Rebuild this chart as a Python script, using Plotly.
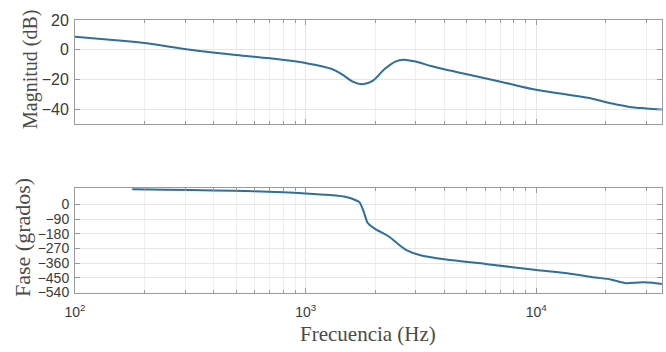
import plotly.graph_objects as go

# ---- data ----
mag_freq = [100, 150, 200, 316, 500, 700, 1000, 1300, 1450, 1600, 1766, 1950, 2200, 2450, 2650,
            3000, 3500, 4070, 5000, 7000, 10000, 14000, 17500, 21000, 25300, 30000, 35000]
mag_db = [8.7, 6.3, 4.5, 0.0, -3.5, -5.8, -9.0, -13.0, -17.0, -21.5, -23.3, -21.0, -13.0, -8.0, -6.7,
          -8.0, -11.0, -13.5, -16.5, -21.5, -27.0, -30.5, -33.0, -36.0, -38.5, -39.5, -40.2]

ph_freq = [177, 250, 400, 600, 800, 1000, 1270, 1500, 1650, 1714, 1780, 1850, 1890, 2000, 2310,
           2500, 2735, 3120, 4070, 6000, 10000, 14000, 18100, 21000, 24500, 28000, 32000, 35000]
ph_deg = [92, 90, 85, 80, 74, 67, 57, 45, 25, 12, -40, -110, -125, -150, -200,
          -240, -280, -310, -338, -365, -402, -425, -448, -460, -483, -478, -480, -488]

x_ticks = [100, 1000, 10000]
x_ticktext = ["10<sup>2</sup>", "10<sup>3</sup>", "10<sup>4</sup>"]
mag_ticks = [20, 0, -20, -40]
ph_ticks = [0, -90, -180, -270, -360, -450, -540]

minor_vals = [m * d for d in (100, 1000, 10000) for m in range(2, 10) if m * d <= 35000]

LINE = "#2f6f9a"
GRID = "#e6e6e6"
AX = "#9a9a9a"

fig = go.Figure()
fig.add_trace(go.Scatter(x=mag_freq, y=mag_db, mode="lines", line=dict(color=LINE, width=2, shape="spline"),
                         xaxis="x", yaxis="y", showlegend=False))
fig.add_trace(go.Scatter(x=ph_freq, y=ph_deg, mode="lines", line=dict(color=LINE, width=2, shape="spline", smoothing=0.6),
                         xaxis="x2", yaxis="y2", showlegend=False))

xcommon = dict(type="log", range=[2, 4.545], domain=[75 / 666, 662 / 666],
               showgrid=True, gridcolor=GRID, gridwidth=1,
               minor=dict(tickvals=minor_vals, showgrid=True, gridcolor="#efefef", ticks="inside", ticklen=3, tickcolor=AX),
               ticks="inside", ticklen=5, tickcolor=AX,
               showline=True, linecolor=AX, linewidth=1, mirror="allticks",
               zeroline=False, automargin=False)

fig.update_layout(
    width=666, height=352,
    margin=dict(l=0, r=0, t=0, b=0),
    paper_bgcolor="white", plot_bgcolor="white",
    xaxis=dict(**xcommon, anchor="y", tickvals=x_ticks, showticklabels=False),
    yaxis=dict(range=[-50, 20], domain=[1 - 124 / 352, 1 - 20 / 352], anchor="x",
               tickvals=mag_ticks, showgrid=True, gridcolor=GRID, ticks="inside", ticklen=5, tickcolor=AX,
               showline=True, linecolor=AX, mirror="allticks", zeroline=False, automargin=False,
               tickfont=dict(family="Liberation Sans, Arial", size=16, color="#3a3a3a"), ticklabelstandoff=2),
    xaxis2=dict(**xcommon, anchor="y2", tickvals=x_ticks, ticktext=x_ticktext,
                tickfont=dict(family="Liberation Sans, Arial", size=14, color="#3a3a3a"), ticklabelstandoff=6),
    yaxis2=dict(range=[-543, 100], domain=[1 - 293 / 352, 1 - 188 / 352], anchor="x2",
                tickvals=ph_ticks, showgrid=True, gridcolor=GRID, ticks="inside", ticklen=5, tickcolor=AX,
                showline=True, linecolor=AX, mirror="allticks", zeroline=False, automargin=False,
                tickfont=dict(family="Liberation Sans, Arial", size=14, color="#3a3a3a"), ticklabelstandoff=2),
    annotations=[
        dict(text="Magnitud (dB)", x=30 / 666, y=1 - 70 / 352, xref="paper", yref="paper", textangle=-90,
             showarrow=False, font=dict(family="Liberation Serif, Times New Roman", size=20, color="#4a4a4a"),
             xanchor="center", yanchor="middle"),
        dict(text="Fase (grados)", x=22 / 666, y=1 - 238 / 352, xref="paper", yref="paper", textangle=-90,
             showarrow=False, font=dict(family="Liberation Serif, Times New Roman", size=22, color="#4a4a4a"),
             xanchor="center", yanchor="middle"),
        dict(text="Frecuencia (Hz)", x=368 / 666, y=1 - 334 / 352, xref="paper", yref="paper",
             showarrow=False, font=dict(family="Liberation Serif, Times New Roman", size=21, color="#4a4a4a"),
             xanchor="center", yanchor="middle"),
    ],
)

fig.write_html("out.html")
